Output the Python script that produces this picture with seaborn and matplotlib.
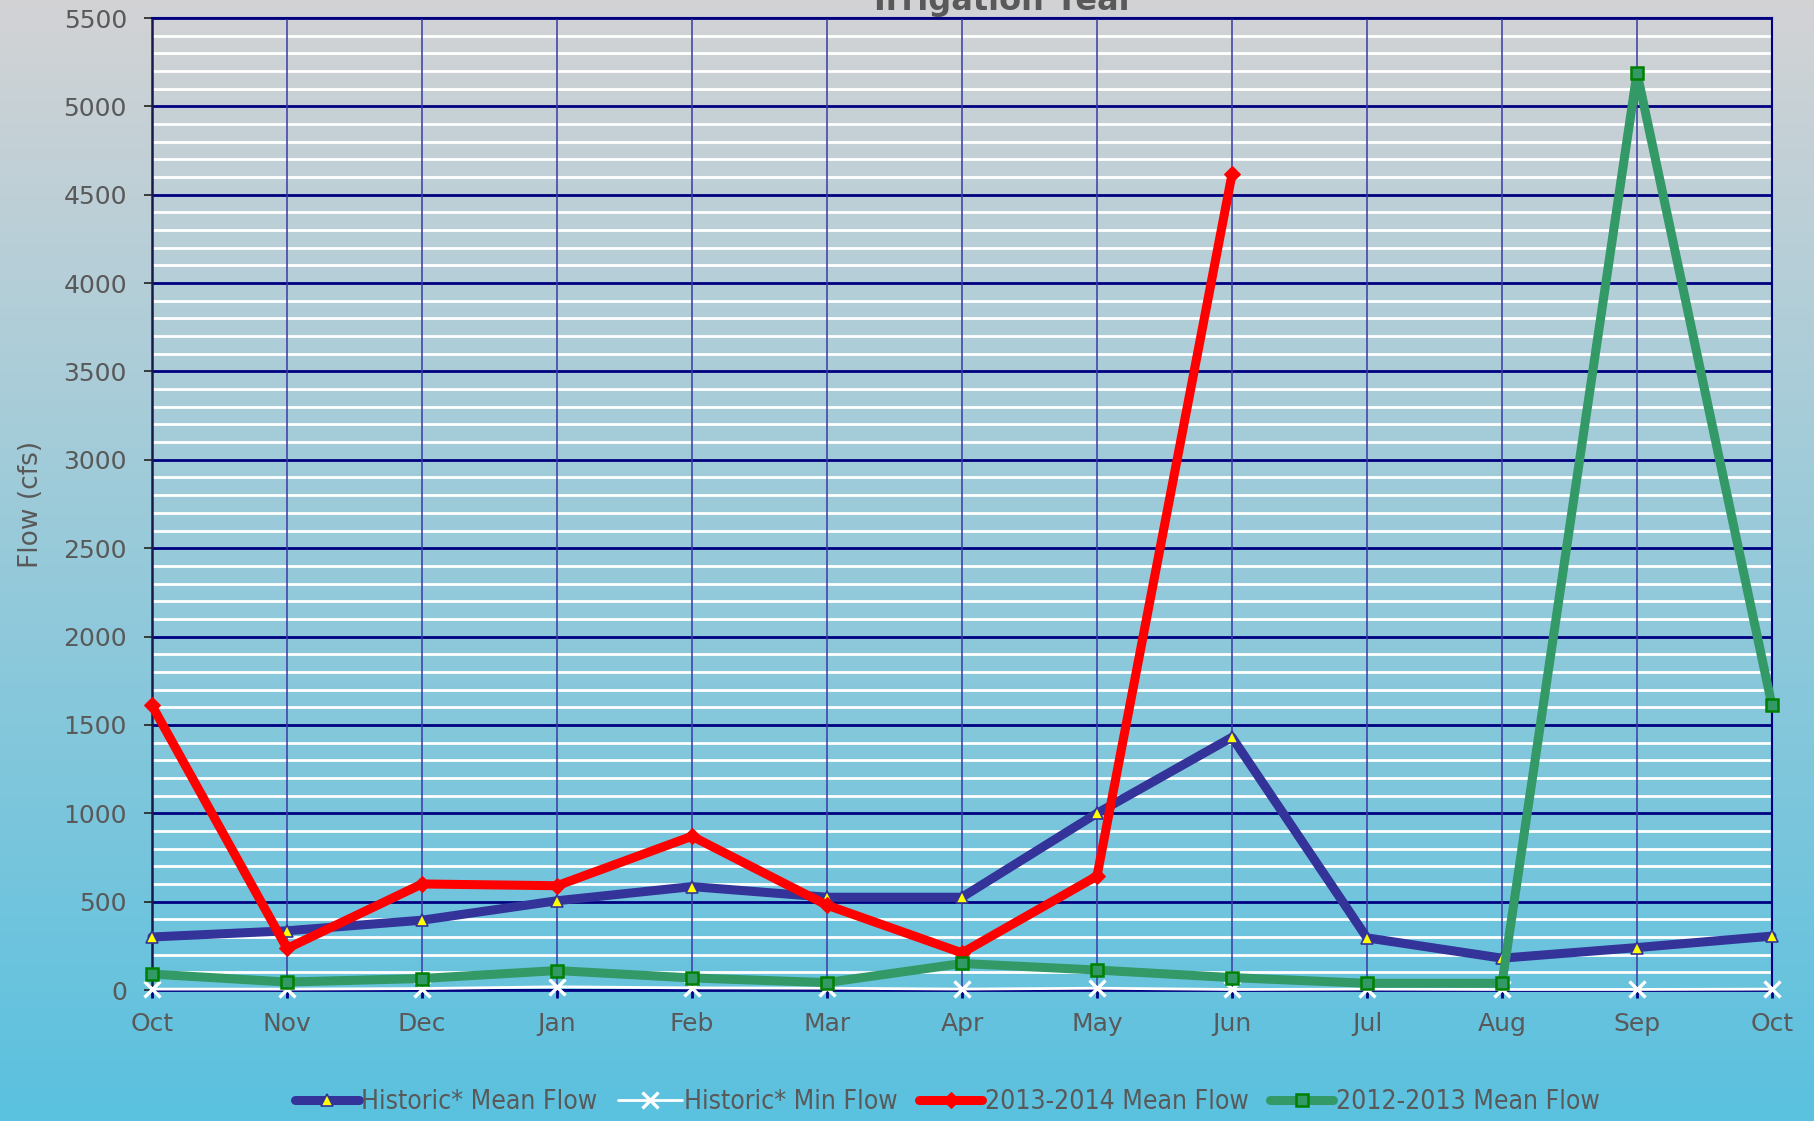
import numpy as np
import pandas as pd
import matplotlib
matplotlib.use('Agg')
import matplotlib.pyplot as plt
from matplotlib.ticker import MultipleLocator
import seaborn as sns

months = ['Oct', 'Nov', 'Dec', 'Jan', 'Feb', 'Mar', 'Apr', 'May', 'Jun', 'Jul', 'Aug', 'Sep', 'Oct']
historic_mean = [300, 335, 395, 505, 585, 525, 525, 1000, 1430, 295, 180, 240, 305]
historic_min = [5, 5, 8, 18, 12, 10, 5, 10, 3, 5, 3, 3, 5]
flow_2013_2014 = [1610, 235, 600, 590, 870, 480, 210, 645, 4615]
flow_2012_2013 = [90, 45, 65, 110, 68, 42, 150, 113, 70, 38, 38, 5190, 1610]

text_gray = '#595959'

sns.set_theme(style='white')
plt.rcParams['font.family'] = ['DejaVu Sans']

fig = plt.figure(figsize=(18.15, 11.21), dpi=100)

# gradient background: light gray at top to cyan at bottom
top = np.array([0.827, 0.827, 0.835])
bottom = np.array([0.353, 0.757, 0.875])
t = np.linspace(0, 1, 256)[:, None]
grad = (top * (1 - t) + bottom * t)[:, None, :]
bg = fig.add_axes([0, 0, 1, 1], zorder=-10)
bg.imshow(grad, aspect='auto', extent=[0, 1, 0, 1])
bg.axis('off')

ax = fig.add_axes([152 / 1815, 1 - 990 / 1121, 1620 / 1815, 972 / 1121])
ax.set_facecolor('none')

x = np.arange(len(months))

sns.lineplot(x=x, y=historic_mean, ax=ax, color='#333399', lw=6.5, marker='^',
             markersize=8, markerfacecolor='yellow', markeredgecolor='#333399',
             markeredgewidth=1.2, label='Historic* Mean Flow', clip_on=False, zorder=3)
sns.lineplot(x=x, y=historic_min, ax=ax, color='white', lw=2, marker='x',
             markersize=11, markeredgewidth=2.4, markeredgecolor='white',
             label='Historic* Min Flow', clip_on=False, zorder=4)
sns.lineplot(x=x[:len(flow_2013_2014)], y=flow_2013_2014, ax=ax, color='red', lw=6.5,
             marker='D', markersize=8.5, markerfacecolor='red', markeredgecolor='red',
             label='2013-2014 Mean Flow', clip_on=False, zorder=5)
sns.lineplot(x=x, y=flow_2012_2013, ax=ax, color='#339966', lw=6.5, marker='s',
             markersize=8.5, markerfacecolor='#339966', markeredgecolor='#008000',
             markeredgewidth=1.8, label='2012-2013 Mean Flow', clip_on=False, zorder=6)

ax.set_xlim(0, len(months) - 1)
ax.set_ylim(0, 5500)
ax.set_xticks(x)
ax.set_xticklabels(months)
ax.set_yticks(range(0, 5501, 500))
ax.yaxis.set_minor_locator(MultipleLocator(100))

ax.set_axisbelow(True)
ax.grid(which='major', axis='y', color='#000080', lw=2)
ax.grid(which='minor', axis='y', color='white', lw=2)
ax.grid(which='major', axis='x', color='#3a3aa6', lw=1.1, linestyle='-')
# vertical month lines sit over the horizontal grid
ax.xaxis.set_zorder(0.7)

ax.tick_params(axis='y', which='major', length=6, width=1.2, color='#222222',
               labelsize=18, labelcolor=text_gray, pad=12, left=True)
ax.tick_params(axis='x', which='major', length=6, width=2, color='#000080',
               labelsize=18, labelcolor=text_gray, pad=10, bottom=True)
ax.tick_params(which='minor', length=0)

for side in ['top', 'right']:
    ax.spines[side].set_color('#000080')
    ax.spines[side].set_linewidth(1.5)
ax.spines['left'].set_color('#1a1a4a')
ax.spines['left'].set_linewidth(1.8)
ax.spines['bottom'].set_color('#000080')
ax.spines['bottom'].set_linewidth(2)

ax.set_xlabel('')
ax.set_ylabel('Flow (cfs)', fontsize=19, color=text_gray, labelpad=14)

fig.text(1004 / 1815, 1 - 10 / 1121, 'Irrigation Year', ha='center', va='baseline',
         fontsize=23, fontweight='bold', color=text_gray)

handles, labels = ax.get_legend_handles_labels()
ax.get_legend().remove()
fig.legend(handles, labels, loc='center', bbox_to_anchor=(0.522, 1 - 1102 / 1121),
           ncol=4, frameon=False, handlelength=2.4, columnspacing=0.8, handletextpad=0.1,
           prop={'family': 'DejaVu Sans', 'stretch': 'condensed', 'size': 19},
           labelcolor=text_gray)

fig.savefig('out.png', dpi=100)
